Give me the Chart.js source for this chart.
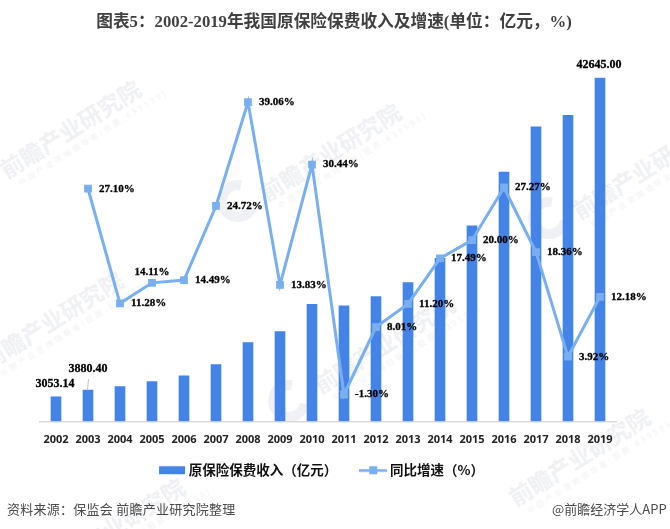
<!DOCTYPE html>
<html lang="zh">
<head>
<meta charset="utf-8">
<script src="https://cdn.jsdelivr.net/npm/chart.js@4"></script>
<style>
html,body{margin:0;padding:0;background:#fff;width:670px;height:529px;overflow:hidden}
#wrap{position:relative;width:670px;height:529px;overflow:hidden}
canvas{position:absolute;left:0;top:0;z-index:2}
.wm{position:absolute;transform-origin:0 0;transform:rotate(-32deg);white-space:nowrap;z-index:1;color:#f0f1f4;font-family:"Noto Sans CJK SC";font-weight:700;font-size:23px;line-height:28px}
.wm small{display:block;font-size:8px;font-weight:400;letter-spacing:2.6px;line-height:11px;margin-left:8px;color:#f2f3f6}
.logo{position:absolute;z-index:1;width:22px;height:22px;border-radius:50%;border:10px solid #f0f1f5;border-right-color:transparent;transform:rotate(-35deg)}
.foot{position:absolute;z-index:3;font-family:"Noto Sans CJK SC";font-size:13px;color:#4a4a4a;top:499px;line-height:19px;white-space:nowrap}
</style>
</head>
<body>
<div id="wrap">
<canvas id="c" width="670" height="529"></canvas>
<div class="foot" style="left:7px;letter-spacing:.25px">资料来源：保监会 前瞻产业研究院整理</div>
<div class="foot" style="left:552px">@前瞻经济学人APP</div>
</div>
<script>
const categories = ["2002","2003","2004","2005","2006","2007","2008","2009","2010","2011","2012","2013","2014","2015","2016","2017","2018","2019"];
const premiumIncome = [3053.14,3880.40,4318,4927,5641,7036,9784,11137,14528,14339,15488,17222,20235,24283,30959,36581,38017,42645.00];
const growthRate = [null,27.10,11.28,14.11,14.49,24.72,39.06,13.83,30.44,-1.30,8.01,11.20,17.49,20.00,27.27,18.36,3.92,12.18];
const barLabels = ["3053.14","3880.40","","","","","","","","","","","","","","","","42645.00"];
const lineLabelsAbove = ["2005"];
const titleText = "图表5：2002-2019年我国原保险保费收入及增速(单位：亿元，%)";
const seriesNames = ["原保险保费收入（亿元）","同比增速（%）"];
const BAR = "#4484e8", LINE = "#78aff0";

const wrap = document.getElementById("wrap");
[[-6,159],[254,182],[567,200],[-24,350],[308,374],[503,487],[38,557]].forEach(p=>{
  const d=document.createElement("div");d.className="wm";d.style.left=p[0]+"px";d.style.top=p[1]+"px";
  d.innerHTML="前瞻产业研究院<small>中国产业咨询领导者(股票:839599)</small>";wrap.appendChild(d);
});
[[217,180],[268,380],[528,197]].forEach(p=>{
  const d=document.createElement("div");d.className="logo";d.style.left=p[0]+"px";d.style.top=p[1]+"px";wrap.appendChild(d);
});

function swatch(kind){
  const k=document.createElement("canvas");k.width=28;k.height=10;const g=k.getContext("2d");
  if(kind==="bar"){g.fillStyle=BAR;g.fillRect(1,1,26,8);}
  else{g.fillStyle=LINE;g.fillRect(0,4,28,2.6);g.fillRect(10,1,8,8);}
  return k;
}

const placementPlugin={
  id:"placement",
  afterLayout(chart){
    const l=chart.legend, t=chart.titleBlock;
    if(l){l.left-=5;l.right-=5;l.top-=21;l.bottom-=21;}
    if(t){t.left+=6;t.right+=6;}
  }
};

const labelPlugin={
  id:"valueLabels",
  afterDatasetsDraw(chart){
    const ctx=chart.ctx;ctx.save();ctx.fillStyle="#000";ctx.strokeStyle="#000";ctx.lineWidth=.3;
    const bars=chart.getDatasetMeta(0).data, pts=chart.getDatasetMeta(1).data;
    const put=(t,x,y)=>{ctx.fillText(t,x,y);ctx.strokeText(t,x,y);};
    ctx.font='bold 12px "Liberation Serif"';ctx.textAlign="center";ctx.textBaseline="middle";
    bars.forEach((b,i)=>{
      if(!barLabels[i])return;
      const lifted=i===1;
      put(barLabels[i],b.x+(lifted?0:-1),b.y-(lifted?21:13));
      if(lifted){ctx.save();ctx.strokeStyle="#bfbfbf";ctx.lineWidth=1;ctx.beginPath();ctx.moveTo(b.x-.5,b.y);ctx.lineTo(b.x+.5,b.y-11);ctx.stroke();ctx.restore();}
    });
    ctx.font='bold 11px "Liberation Serif"';
    pts.forEach((p,i)=>{
      if(growthRate[i]===null)return;
      const t=growthRate[i].toFixed(2)+"%";
      if(lineLabelsAbove.includes(categories[i])){ctx.textAlign="center";put(t,p.x,p.y-11);}
      else{ctx.textAlign="left";put(t,p.x+11,p.y);}
    });
    ctx.restore();
  }
};

new Chart(document.getElementById("c"),{
  data:{labels:categories,datasets:[
    {type:"bar",label:seriesNames[0],data:premiumIncome,yAxisID:"y",order:2,backgroundColor:BAR,barThickness:10},
    {type:"line",label:seriesNames[1],data:growthRate,yAxisID:"y1",order:1,borderColor:LINE,backgroundColor:LINE,borderWidth:3,pointStyle:"rect",pointRadius:5.5,pointBorderWidth:0,pointBackgroundColor:LINE,tension:0,spanGaps:false}
  ]},
  options:{
    responsive:false,animation:false,
    layout:{padding:{left:40,right:54,top:0,bottom:21}},
    plugins:{
      title:{display:true,text:titleText,color:"#404040",font:{family:'"Liberation Serif","Noto Sans CJK SC"',size:16.7,weight:"bold"},padding:{top:13,bottom:26}},
      tooltip:{enabled:false},
      legend:{position:"bottom",labels:{color:"#111",font:{family:'"Noto Sans CJK SC"',size:13.5,weight:"bold"},usePointStyle:true,pointStyleWidth:20,boxHeight:10,padding:26,
        generateLabels(){return [{text:seriesNames[0],pointStyle:swatch("bar"),fontColor:"#111",lineWidth:0,strokeStyle:"transparent",fillStyle:BAR},{text:seriesNames[1],pointStyle:swatch("line"),fontColor:"#111",lineWidth:0,strokeStyle:"transparent",fillStyle:LINE}];}
      }}
    },
    scales:{
      x:{grid:{display:false,drawTicks:false},border:{color:"#d9d9d9",width:1.5},ticks:{color:"#222",font:{family:'"Open Sans"',size:11,weight:"bold"},padding:12,maxRotation:0,autoSkip:false}},
      y:{display:false,min:0,max:45000},
      y1:{display:false,min:-5,max:45,position:"right"}
    }
  },
  plugins:[placementPlugin,labelPlugin]
});
</script>
</body>
</html>
